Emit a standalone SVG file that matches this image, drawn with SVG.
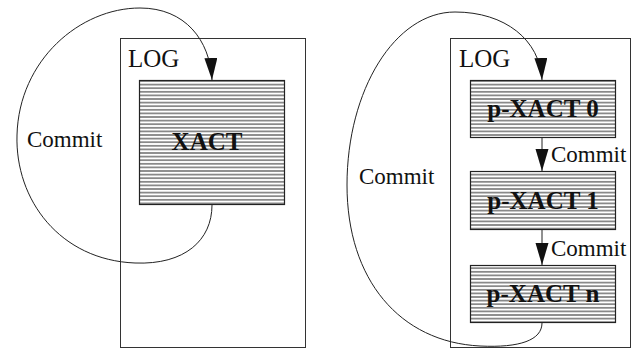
<svg xmlns="http://www.w3.org/2000/svg" width="637" height="350" viewBox="0 0 637 350">
  <style>
    .frame { fill: #fff; stroke: #333; stroke-width: 1; }
    .xact { fill: url(#hatch); stroke: #222; stroke-width: 1.2; }
    .lbl { font-family: "Liberation Serif", "Times New Roman", serif; font-size: 23px; fill: #111; }
    .log { font-family: "Liberation Serif", "Times New Roman", serif; font-size: 25px; fill: #111; }
    .name { font-family: "Liberation Serif", "Times New Roman", serif; font-size: 25px; font-weight: bold; fill: #111; text-anchor: middle; }
    .conn { fill: none; stroke: #222; stroke-width: 1; }
  </style>
  <defs>
    <pattern id="hatch" patternUnits="userSpaceOnUse" width="8" height="3.6">
      <rect width="8" height="3.6" fill="#fff"/>
      <line x1="0" y1="1.8" x2="8" y2="1.8" stroke="#2a2a2a" stroke-width="1"/>
    </pattern>
    <marker id="head" markerUnits="userSpaceOnUse" markerWidth="22" markerHeight="14" refX="22" refY="6.5" orient="auto">
      <path d="M0,0 L22,6.5 L0,13 z" fill="#111"/>
    </marker>
  </defs>

  <!-- single transaction log -->
  <g id="log-single">
    <rect class="frame" x="120.5" y="38.5" width="185" height="309"/>
    <text class="log" x="128" y="67">LOG</text>
  </g>
  <g id="xact">
    <rect class="xact" x="139.5" y="80.5" width="145" height="124"/>
    <text class="name" x="207" y="150">XACT</text>
  </g>

  <!-- partitioned transaction log -->
  <g id="log-multi">
    <rect class="frame" x="450.5" y="38.5" width="180" height="309"/>
    <text class="log" x="459" y="67">LOG</text>
  </g>
  <g id="pxact0">
    <rect class="xact" x="470.5" y="80.5" width="145" height="57"/>
    <text class="name" x="543" y="117">p-XACT 0</text>
  </g>
  <g id="pxact1">
    <rect class="xact" x="470.5" y="171.5" width="145" height="58"/>
    <text class="name" x="543" y="209">p-XACT 1</text>
  </g>
  <g id="pxactn">
    <rect class="xact" x="470.5" y="265.5" width="145" height="57"/>
    <text class="name" x="543" y="302">p-XACT n</text>
  </g>

  <g id="connectors">
    <path class="conn" marker-end="url(#head)" d="M212,205 C212,240 185,265 135,263 C60,260 15,200 17,135 C19,60 80,8 140,8 C185,8 210,40 212,80"/>
    <text class="lbl" x="27" y="147">Commit</text>

    <path class="conn" marker-end="url(#head)" d="M542,323 C542,340 520,348 480,346 C400,342 347,280 347,185 C347,90 395,12 455,12 C505,12 540,40 542,80"/>
    <text class="lbl" x="359" y="184">Commit</text>

    <line class="conn" x1="542" y1="138" x2="542" y2="171" marker-end="url(#head)"/>
    <text class="lbl" x="551" y="162">Commit</text>
    <line class="conn" x1="542" y1="230" x2="542" y2="265" marker-end="url(#head)"/>
    <text class="lbl" x="551" y="256">Commit</text>
  </g>
</svg>
